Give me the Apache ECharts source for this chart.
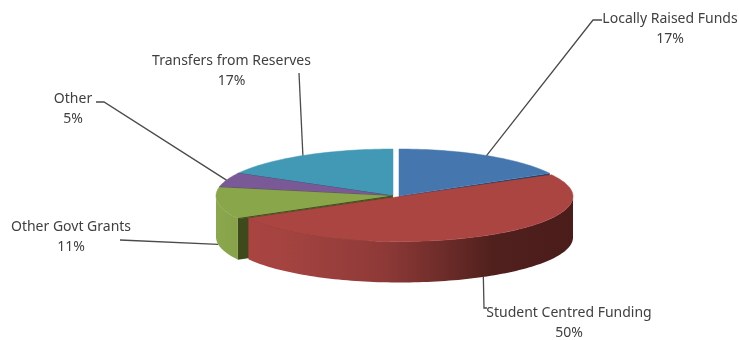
<!DOCTYPE html>
<html><head><meta charset="utf-8">
<style>html,body{margin:0;padding:0;background:#fff}#c{width:739px;height:340px;filter:blur(0.45px)}</style>
<script src="https://cdn.jsdelivr.net/npm/echarts@6/dist/echarts.min.js"></script>
</head><body><div id="c"></div>
<script>
const categories = ['Locally Raised Funds','Student Centred Funding','Other Govt Grants','Other','Transfers from Reserves'];
const shares = [17,50,11,5,17];

// styling and layout only
const topColors = ['#4676ae','#ab4542','#8aa64b','#7a5a96','#4299b5'];
const edgeColors = ['#1f3d5e','#5a2422','#3f4a1c','#3c2c4c','#1f4f60'];
const centers = [[399,196],[400,196.5],[393,196],[393,196],[393,196]];
const radiiX = [172,173,177,177,177];
const radiiY = [47,45,47,47,47];
const depth = 41;
const paintOrder = [4,3,2,0,1];
const labelAt = [[670,29],[569,323],[71,237],[73,109.5],[231.5,71]];
const elbows = [
  [[602,20],[593,20]],
  [[487,308],[484,308]],
  [[120,240]],
  [[96,102],[104,102]],
  [[299,73]]
];
const frontWalls = {
  1:['#a94441','#a34340','#8f3a38','#6f2d2a','#50201d','#4a1c1a'],
  2:['#8ba84d','#87a24a']
};

const rad = d => d*Math.PI/180;
const total = shares.reduce((a,b)=>a+b,0);
const startAngles = [];
shares.reduce((acc,v,i)=>{startAngles[i]=acc;return acc+v/total*360;},0);

function rim(i,deg,drop){
  return [centers[i][0]+radiiX[i]*Math.sin(rad(deg)),
          centers[i][1]-radiiY[i]*Math.cos(rad(deg))+(drop||0)];
}
function arc(i,a,b,drop){
  const pts=[],n=Math.max(2,Math.ceil(Math.abs(b-a)/1.5));
  for(let k=0;k<=n;k++)pts.push(rim(i,a+(b-a)*k/n,drop));
  return pts;
}

function renderSlice(params,api){
  const i=params.dataIndex;
  const v=api.value(0);
  const a=startAngles[i], b=a+v/total*360;
  const z=paintOrder.indexOf(i)*10+10;
  const c=centers[i];
  const children=[];
  // radial side wall at the slice's closing edge, seen under the next slice
  if(i===0){
    const e=rim(i,b);
    children.push({type:'polygon',z2:z,shape:{points:[c,e,[e[0],e[1]+depth],[c[0],c[1]+depth]]},style:{fill:edgeColors[i]}});
  }
  // radial side wall at the opening edge, seen beside the exploded slice
  if(i===2){
    const e=rim(i,a);
    children.push({type:'polygon',z2:z,shape:{points:[c,e,[e[0],e[1]+depth],[c[0],c[1]+depth]]},style:{fill:edgeColors[i]}});
  }
  // outer front wall
  const fa=Math.max(a,90), fb=Math.min(b,270);
  if(fb>fa && frontWalls[i]){
    const top=arc(i,fa,fb), bot=arc(i,fb,fa,depth);
    const xs=top.map(p=>p[0]);
    const x0=Math.min(...xs), x1=Math.max(...xs);
    const cols=frontWalls[i];
    const stops = i===1
      ? [0,0.13,0.41,0.59,0.75,1].map((o,k)=>({offset:o,color:cols[k]}))
      : cols.map((col,k)=>({offset:k/(cols.length-1),color:col}));
    children.push({type:'polygon',z2:z+1,shape:{points:top.concat(bot)},
      style:{fill:new echarts.graphic.LinearGradient(x0,0,x1,0,stops,true)}});
  }
  // top face
  const face=[c].concat(arc(i,a,b));
  children.push({type:'polygon',z2:z+2,shape:{points:face},
    style:{fill:topColors[i],stroke:topColors[i],lineWidth:0.5}});
  // dark seam along opening edge
  if(i>=2){
    const e=rim(i,a);
    children.push({type:'line',z2:z+3,shape:{x1:c[0],y1:c[1],x2:e[0],y2:e[1]},
      style:{stroke:edgeColors[i],lineWidth:1}});
  }
  // leader: starts on the rim at the slice's middle
  const mid=(a+b)/2;
  const front=Math.cos(rad(mid))<0;
  const anchor=rim(i,mid,front?depth:0);
  children.push({type:'polyline',z2:100,shape:{points:elbows[i].concat([anchor])},
    style:{stroke:'#4a4a4a',lineWidth:1.3,fill:null}});
  // label
  children.push({type:'text',z2:101,style:{
    text:api.value(1)+'\n'+v+'%',
    x:labelAt[i][0],y:labelAt[i][1],align:'center',verticalAlign:'middle',
    textAlign:'center',textVerticalAlign:'middle',
    fill:'#404040',font:'14px "Noto Sans"',lineHeight:20}});
  return {type:'group',children};
}

const chart=echarts.init(document.getElementById('c'),null,{renderer:'canvas'});
chart.setOption({
  animation:false,
  backgroundColor:'#ffffff',
  series:[{
    type:'custom',
    coordinateSystem:'none',
    silent:true,
    renderItem:renderSlice,
    encode:{value:0},
    dimensions:['share','name'],
    data:shares.map((v,i)=>[v,categories[i]])
  }]
});
</script></body></html>
